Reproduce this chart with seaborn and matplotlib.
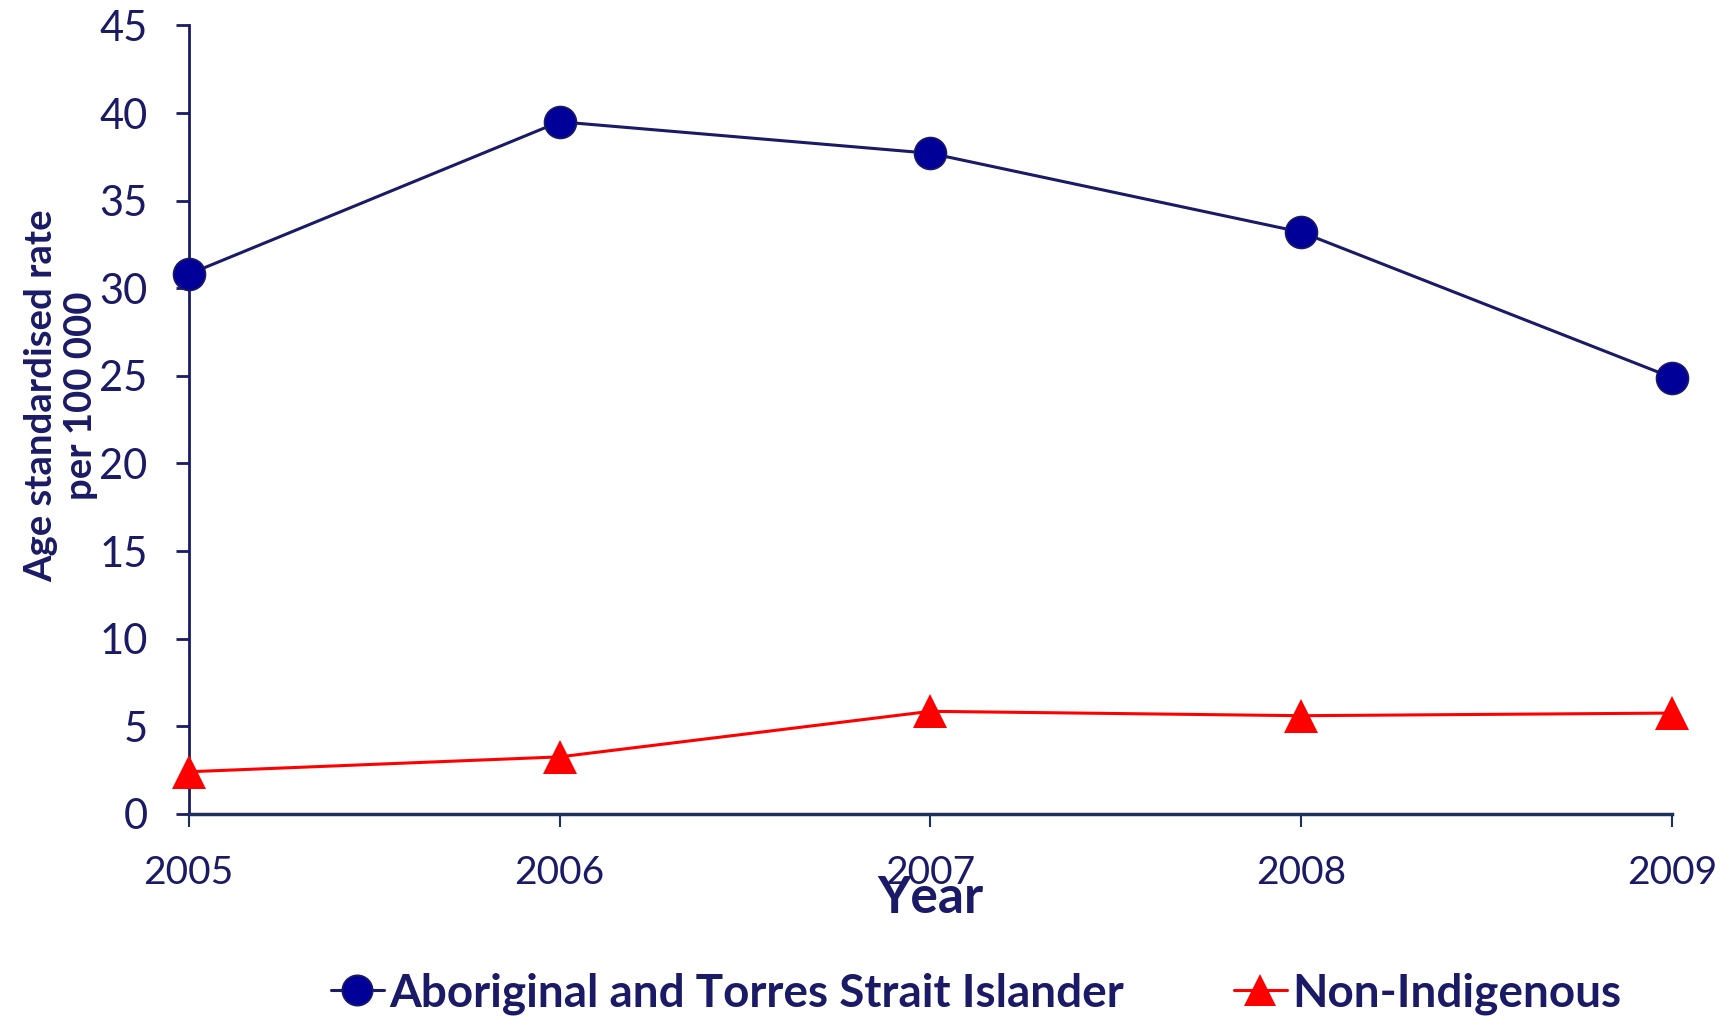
import matplotlib
matplotlib.use("Agg")
import matplotlib.pyplot as plt
import seaborn as sns
import pandas as pd

years = [2005, 2006, 2007, 2008, 2009]
aboriginal = [30.8, 39.5, 37.7, 33.2, 24.9]
non_indigenous = [2.4, 3.25, 5.85, 5.6, 5.75]
series_names = ["Aboriginal and Torres Strait Islander", "Non-Indigenous"]
y_ticks = [0, 5, 10, 15, 20, 25, 30, 35, 40, 45]

sns.set_theme(style="white")
plt.rcParams['font.family'] = ['Lato', 'DejaVu Sans']

navy = '#1a1a66'
text_col = '#1a1a66'

fig = plt.figure(figsize=(17.31, 10.16), dpi=100)
ax = fig.add_axes([0.109, 0.199, 0.857, 0.776])

df_a = pd.DataFrame({"Year": years, "Rate": aboriginal})
df_n = pd.DataFrame({"Year": years, "Rate": non_indigenous})

sns.lineplot(data=df_a, x="Year", y="Rate", ax=ax, color=navy, linewidth=2.2,
             marker='o', markersize=23, markerfacecolor='#000099',
             markeredgecolor=navy, markeredgewidth=1.2, label=series_names[0],
             zorder=4, clip_on=False)
sns.lineplot(data=df_n, x="Year", y="Rate", ax=ax, color='#ff0000', linewidth=2.2,
             marker='^', markersize=24, markerfacecolor='#ff0000',
             markeredgecolor='#ff0000', markeredgewidth=0, label=series_names[1],
             zorder=4, clip_on=False)

ax.set_xlim(2005, 2009)
ax.set_ylim(0, 45)
ax.set_xticks(years)
ax.set_xticklabels([str(y) for y in years])
ax.set_yticks(y_ticks)
ax.set_yticklabels([str(v) for v in y_ticks])

for s in ['top', 'right']:
    ax.spines[s].set_visible(False)
ax.spines['left'].set_color(navy)
ax.spines['left'].set_linewidth(2)
ax.spines['bottom'].set_color('#1c3060')
ax.spines['bottom'].set_linewidth(2.5)
ax.spines['bottom'].set_zorder(5)

ax.tick_params(axis='y', direction='out', length=9.5, width=2, color=navy,
               labelsize=30, labelcolor=text_col, pad=20, left=True)
ax.tick_params(axis='x', direction='out', length=9, width=1.5, color='#1c3060',
               labelsize=28, labelcolor=text_col, pad=21, bottom=True)

ax.set_ylabel("Age standardised rate\nper 100 000", fontsize=27.5, fontweight='bold',
              color=text_col, linespacing=1.2)
ax.yaxis.set_label_coords(-0.061, 0.53)
ax.set_xlabel("Year", fontsize=37, fontweight='bold', color=text_col)
ax.xaxis.set_label_coords(0.5, -0.078)

ax.get_legend().remove()
handles, labels = ax.get_legend_handles_labels()
leg = fig.legend(handles, labels, loc='center', bbox_to_anchor=(0.564, 0.022),
                 ncol=2, frameon=False, fontsize=33, handlelength=1.15,
                 handletextpad=0.12, columnspacing=2.4, markerscale=0.95)
for t in leg.get_texts():
    t.set_color(text_col)
    t.set_fontweight('bold')

fig.savefig("out.png", dpi=100)
